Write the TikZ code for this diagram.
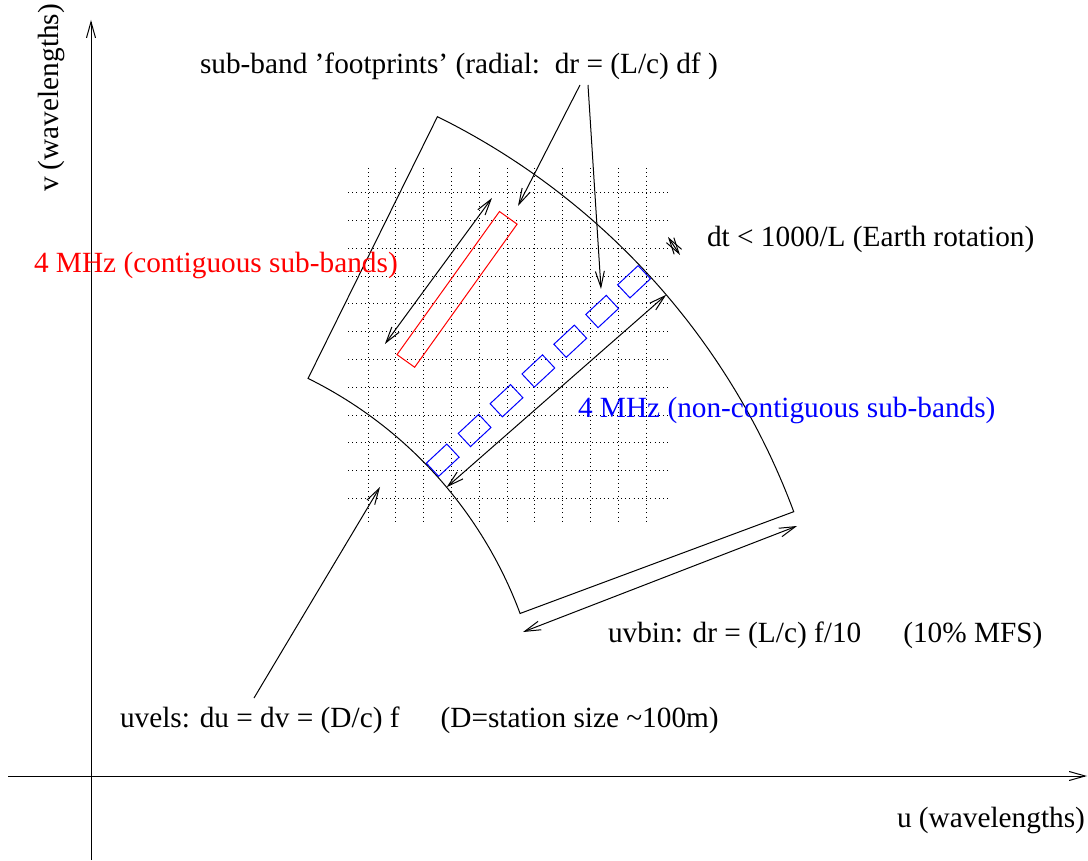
\documentclass[tikz,border=0pt]{standalone}
\usepackage{fontspec}
\setmainfont{Liberation Serif}
\usetikzlibrary{arrows.meta}
\begin{document}
\begin{tikzpicture}[x=0.5pt,y=-0.5pt,
  every node/.style={font=\fontsize{14.65}{17}\selectfont, inner sep=0pt, outer sep=0pt},
  lbl/.style={anchor=base west},
  ln/.style={line width=0.5pt},
  arr/.style={ln, -{Straight Barb[length=8pt,width=4.5pt]}},
  darr/.style={ln, {Straight Barb[length=8pt,width=4.5pt]}-{Straight Barb[length=8pt,width=4.5pt]}},
  gridln/.style={line width=0.45pt, dash pattern=on 0.45pt off 1.65pt},
]
\useasboundingbox (0,0) rectangle (1088,861);

% axes
\coordinate (vb) at (91,860); \coordinate (vt) at (91,20);
\draw[arr] (vb) -- (vt);
\coordinate (hl) at (8,776); \coordinate (hr) at (1087,776);
\draw[arr] (hl) -- (hr);

% grid
\foreach \i in {0,...,10} \draw[gridln] ({368+27.8*\i},168) -- ({368+27.8*\i},524);
\foreach \j in {0,...,11} \draw[gridln] (348,{192.6+27.8*\j}) -- (670,{192.6+27.8*\j});

\begin{scope}[shift={(118,763)}]
  % annular sector
  \draw[ln] plot[domain=63.7:20.4,samples=90] ({-\x}:721) -- plot[domain=20.4:63.7,samples=90] ({-\x}:429) -- cycle;
  % red contiguous footprint
  \draw[red, ln, rotate=54.4] (494.5,-10.85) rectangle (670.5,10.85);
  % blue non-contiguous footprints
  \foreach \k in {0,...,6}
    \draw[blue, ln, rotate=43] ({444+43.6*\k-14},-9) rectangle ({444+43.6*\k+14},9);
  % radial double arrows
  \coordinate (ba) at (-40:429); \coordinate (bb) at (-40.5:721);
  \draw[darr] (ba) -- (bb);
  \coordinate (ra) at (-57.5:496.8); \coordinate (rb) at (-56.5:677.6);
  \draw[darr] (ra) -- (rb);
\end{scope}

% tiny tangential arrow
\coordinate (ta) at (668,237); \coordinate (tb) at (680,255);
\draw[darr] (ta) -- (tb);

% uvbin arrow
\coordinate (ua) at (523,632); \coordinate (ub) at (797,526);
\draw[darr] (ua) -- (ub);

% labels
\node[lbl] (t1) at (200,74) {sub-band 'footprints' (radial:\ \ dr = (L/c) df )};
\node[lbl] (t2) at (707,247) {dt < 1000/L (Earth rotation)};
\node[lbl, red] (t3) at (34,273) {4 MHz (contiguous sub-bands)};
\node[lbl, blue] (t4) at (578,417) {4 MHz (non-contiguous sub-bands)};
\node[lbl] (t5) at (608,642) {uvbin: dr = (L/c) f/10\hspace{21pt}(10\% MFS)};
\node[lbl] (t6) at (120,727) {uvels: du = dv = (D/c) f\hspace{20.5pt}(D=station size \textasciitilde100m)};
\node[lbl] (t7) at (897,827) {u (wavelengths)};
\node[anchor=base west, rotate=90] (t8) at (58,192) {v (wavelengths)};

% pointer arrows
\coordinate (f1) at (580,85); \coordinate (f1t) at (518,206);
\draw[arr] (f1) -- (f1t);
\coordinate (f2) at (588,85); \coordinate (f2t) at (601,289);
\draw[arr] (f2) -- (f2t);
\coordinate (g1) at (254,698); \coordinate (g1t) at (380,487);
\draw[arr] (g1) -- (g1t);
\end{tikzpicture}
\end{document}
